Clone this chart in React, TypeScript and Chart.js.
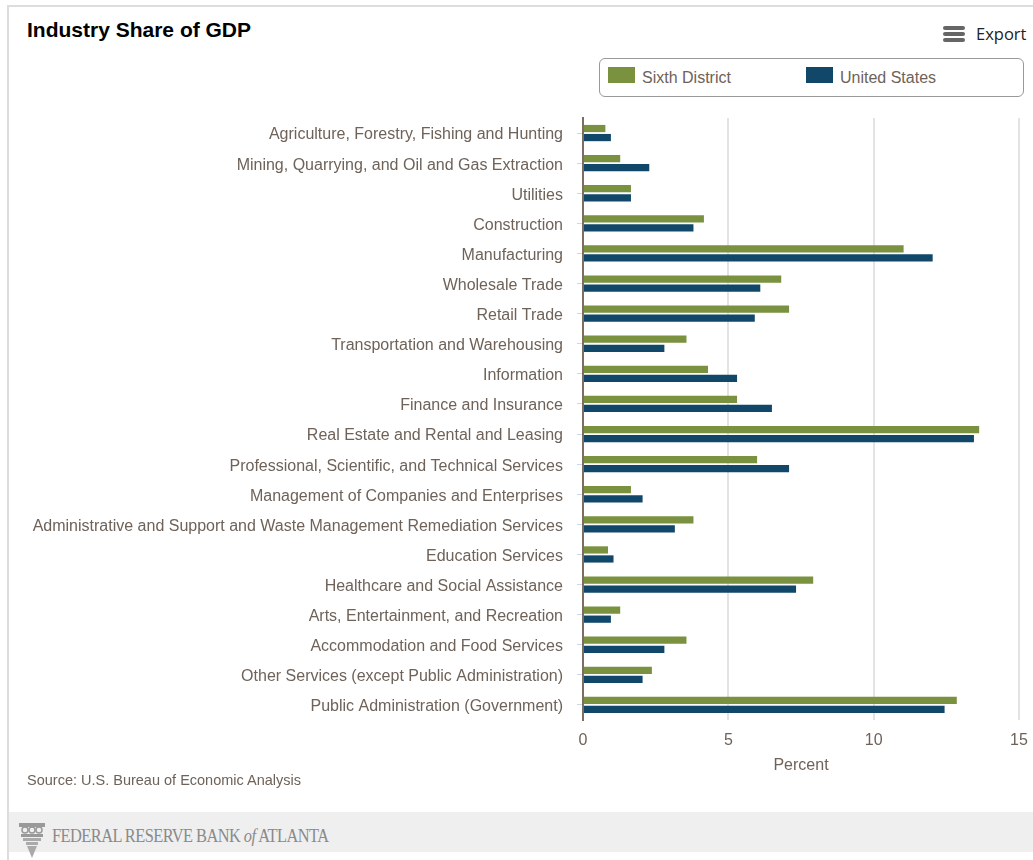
import React, { useEffect, useRef } from "react";
import { Chart, registerables } from "chart.js";

Chart.register(...registerables);

const categories: string[] = [
  "Agriculture, Forestry, Fishing and Hunting",
  "Mining, Quarrying, and Oil and Gas Extraction",
  "Utilities",
  "Construction",
  "Manufacturing",
  "Wholesale Trade",
  "Retail Trade",
  "Transportation and Warehousing",
  "Information",
  "Finance and Insurance",
  "Real Estate and Rental and Leasing",
  "Professional, Scientific, and Technical Services",
  "Management of Companies and Enterprises",
  "Administrative and Support and Waste Management Remediation Services",
  "Education Services",
  "Healthcare and Social Assistance",
  "Arts, Entertainment, and Recreation",
  "Accommodation and Food Services",
  "Other Services (except Public Administration)",
  "Public Administration (Government)",
];

const sixthDistrict: number[] = [
  0.77, 1.28, 1.65, 4.16, 11.03, 6.82, 7.09, 3.56, 4.3, 5.3,
  13.63, 5.99, 1.65, 3.8, 0.86, 7.92, 1.28, 3.56, 2.37, 12.86,
];

const unitedStates: number[] = [
  0.96, 2.28, 1.65, 3.8, 12.03, 6.1, 5.91, 2.8, 5.3, 6.5,
  13.45, 7.09, 2.05, 3.16, 1.05, 7.33, 0.96, 2.8, 2.05, 12.44,
];

const seriesNames: string[] = ["Sixth District", "United States"];
const seriesColors: string[] = ["#7a9140", "#11486a"];
const xTicks: number[] = [0, 5, 10, 15];

const TEXT = "#6e6259";
const FONT = "'Liberation Sans', Arial, sans-serif";

export default function App() {
  const canvasRef = useRef<HTMLCanvasElement | null>(null);

  useEffect(() => {
    if (!canvasRef.current) return;
    const chart = new Chart(canvasRef.current, {
      type: "bar",
      data: {
        labels: categories,
        datasets: [
          {
            label: seriesNames[0],
            data: sixthDistrict,
            backgroundColor: seriesColors[0],
            categoryPercentage: 0.6,
            barPercentage: 0.8,
          },
          {
            label: seriesNames[1],
            data: unitedStates,
            backgroundColor: seriesColors[1],
            categoryPercentage: 0.6,
            barPercentage: 0.8,
          },
        ],
      },
      options: {
        indexAxis: "y",
        animation: false,
        responsive: false,
        maintainAspectRatio: false,
        layout: { padding: { top: 8, right: 14, bottom: 0, left: 0 } },
        plugins: {
          legend: { display: false },
          title: { display: false },
          tooltip: { enabled: false },
        },
        scales: {
          x: {
            type: "linear",
            min: xTicks[0],
            max: xTicks[xTicks.length - 1],
            afterBuildTicks: (scale: any) => {
              scale.ticks = xTicks.map((v) => ({ value: v }));
            },
            afterFit: (scale: any) => {
              scale.height = 58;
              scale.paddingLeft = 0;
              scale.paddingRight = 0;
            },
            grid: {
              color: "#e3e3e3",
              lineWidth: 2,
              drawTicks: false,
            },
            border: { display: false },
            ticks: {
              padding: 11,
              color: TEXT,
              font: { family: FONT, size: 16 },
            },
            title: {
              display: true,
              text: "Percent",
              color: TEXT,
              font: { family: FONT, size: 16 },
              padding: { top: 5, bottom: 3 },
            },
          },
          y: {
            type: "category",
            afterFit: (scale: any) => {
              scale.width = 575;
              scale.paddingTop = 0;
              scale.paddingBottom = 0;
            },
            grid: {
              offset: false,
              drawOnChartArea: false,
              drawTicks: true,
              tickLength: 6,
              tickColor: "#ccd6eb",
              lineWidth: 1,
            },
            border: { display: true, color: "#7a6e62", width: 2 },
            ticks: {
              padding: 14,
              labelOffset: 2,
              color: TEXT,
              autoSkip: false,
              font: { family: FONT, size: 16 },
            },
          },
        },
      },
    });
    return () => chart.destroy();
  }, []);

  const abs = (s: React.CSSProperties): React.CSSProperties => ({
    position: "absolute",
    ...s,
  });

  return (
    <div style={abs({ left: 0, top: 0, width: 1033, height: 860, overflow: "hidden", background: "#fff" })}>
      {/* outer panel borders */}
      <div style={abs({ left: 7, top: 5, width: 1040, height: 900, borderLeft: "2px solid #dddddd", borderTop: "2px solid #dddddd", boxSizing: "border-box" })} />
      {/* title */}
      <div style={abs({ left: 27, top: 18, fontFamily: FONT, fontWeight: "bold", fontSize: 21, color: "#000", whiteSpace: "nowrap", lineHeight: "24px" })}>
        Industry Share of GDP
      </div>
      {/* export button */}
      <div style={abs({ left: 943, top: 26, width: 22, height: 16 })}>
        {[0, 6, 12].map((t) => (
          <div key={t} style={abs({ left: 0, top: t, width: 22, height: 4, borderRadius: 2, background: "#666" })} />
        ))}
      </div>
      <div style={abs({ left: 976, top: 24, fontFamily: "'Open Sans', sans-serif", fontSize: 16.5, color: "#222", lineHeight: "20px" })}>
        Export
      </div>
      {/* legend */}
      <div style={abs({ left: 599, top: 58, width: 425, height: 39, border: "1px solid #999", borderRadius: 6, boxSizing: "border-box" })} />
      {seriesNames.map((name, i) => (
        <React.Fragment key={name}>
          <div style={abs({ left: 608 + i * 198, top: 67, width: 27, height: 16, background: seriesColors[i] })} />
          <div style={abs({ left: 642 + i * 198, top: 69, fontFamily: FONT, fontSize: 16, color: TEXT, lineHeight: "18px", whiteSpace: "nowrap" })}>
            {name}
          </div>
        </React.Fragment>
      ))}
      {/* chart canvas */}
      <div style={abs({ left: 8, top: 110, width: 1025, height: 668 })}>
        <canvas ref={canvasRef} width={1025} height={668} style={{ display: "block", width: 1025, height: 668 }} />
      </div>
      {/* source */}
      <div style={abs({ left: 27, top: 772, fontFamily: FONT, fontSize: 14.5, color: TEXT, lineHeight: "17px", whiteSpace: "nowrap" })}>
        Source: U.S. Bureau of Economic Analysis
      </div>
      {/* footer */}
      <div style={abs({ left: 9, top: 812, width: 1030, height: 40, background: "#efefef" })} />
      <svg style={abs({ left: 18, top: 822, width: 30, height: 36 })} viewBox="0 0 30 36">
        <rect x="1" y="1" width="26" height="4" fill="#999" />
        <circle cx="7" cy="8" r="3" fill="none" stroke="#999" strokeWidth="1.5" />
        <circle cx="14" cy="8" r="3" fill="none" stroke="#999" strokeWidth="1.5" />
        <circle cx="21" cy="8" r="3" fill="none" stroke="#999" strokeWidth="1.5" />
        <rect x="3" y="12" width="22" height="3" fill="#999" />
        <rect x="5" y="16" width="18" height="3" fill="#aaa" />
        <rect x="8" y="20" width="12" height="3" fill="#aaa" />
        <polygon points="9,24 19,24 14,36" fill="#aaa" />
      </svg>
      <div style={abs({ left: 52, top: 825, fontFamily: "'Liberation Serif', 'DejaVu Serif', serif", fontSize: 18, color: "#8a8a8a", lineHeight: "22px", whiteSpace: "nowrap", letterSpacing: -0.6, transform: "scaleX(0.91)", transformOrigin: "left center" })}>
        FEDERAL RESERVE BANK <i>of</i> ATLANTA
      </div>
    </div>
  );
}
